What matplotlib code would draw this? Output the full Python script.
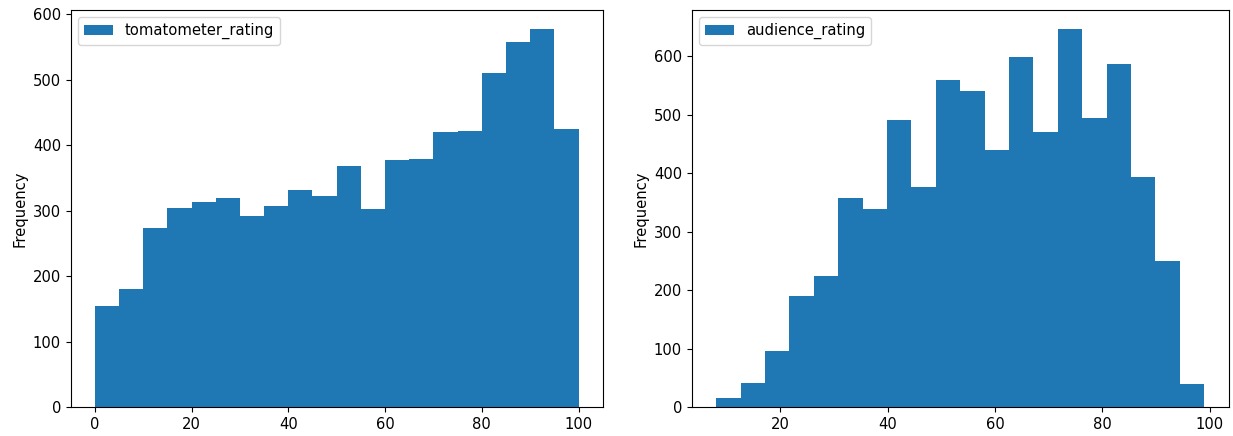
import numpy as np
import matplotlib
matplotlib.use("Agg")
import matplotlib.pyplot as plt

# Tomatometer rating: 20 bins over 0..100
tomato_range = (0, 100)
tomato_counts = [155, 181, 273, 304, 314, 320, 292, 307, 332, 322,
                 368, 302, 378, 379, 420, 422, 511, 558, 578, 425]

# Audience rating: 20 bins over 8..99
audience_range = (8, 99)
audience_counts = [15, 41, 96, 190, 225, 358, 339, 491, 377, 559,
                   541, 439, 599, 471, 647, 495, 587, 393, 250, 40]

plt.rcParams["font.size"] = 10.6


def draw_hist(ax, counts, value_range, label):
    edges = np.linspace(value_range[0], value_range[1], len(counts) + 1)
    centers = (edges[:-1] + edges[1:]) / 2
    ax.hist(centers, bins=edges, weights=counts, color="#1f77b4", label=label)
    ax.set_ylabel("Frequency")
    ax.legend(loc="upper left")


fig = plt.figure(figsize=(12.33, 4.36), dpi=100)
ax1 = fig.add_axes([0.0573, 0.0665, 0.4315, 0.9106])
ax2 = fig.add_axes([0.561, 0.0665, 0.4355, 0.9106])

draw_hist(ax1, tomato_counts, tomato_range, "tomatometer_rating")
draw_hist(ax2, audience_counts, audience_range, "audience_rating")

fig.savefig("out.png", dpi=100)
